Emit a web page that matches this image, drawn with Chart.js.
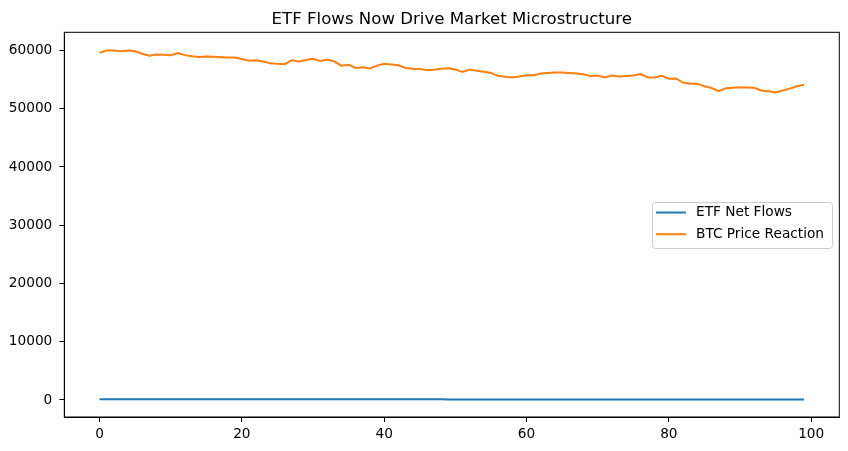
<!DOCTYPE html>
<html lang="en">
<head>
    <meta charset="UTF-8">
    <title>ETF Flows Now Drive Market Microstructure</title>
    <script src="https://cdn.jsdelivr.net/npm/chart.js@4.4.0/dist/chart.umd.min.js"></script>
    <style>
        body { margin: 0; background: #fff; }
        #wrap { width: 848px; height: 451px; position: relative; }
    </style>
</head>
<body>
    <div id="wrap"><canvas id="flowChart"></canvas></div>

    <script>
        // x positions (days)
        const days = Array.from({ length: 100 }, (_, i) => i);

        const etfFlows = [
            130, 129, 129, 128, 128, 127, 127, 126, 126, 125,
            125, 124, 124, 123, 123, 122, 122, 121, 121, 120,
            120, 119, 119, 118, 118, 117, 117, 116, 116, 115,
            115, 114, 114, 113, 113, 112, 112, 111, 111, 110,
            110, 109, 109, 108, 108, 107, 107, 106, 106, 105,
            105, 104, 104, 103, 103, 102, 102, 101, 101, 100,
            100, 99, 99, 98, 98, 97, 97, 96, 96, 95,
            95, 94, 94, 93, 93, 92, 92, 91, 91, 90,
            90, 89, 89, 88, 88, 87, 87, 86, 86, 85,
            85, 84, 84, 83, 83, 82, 82, 81, 81, 80
        ];

        const btcPrice = [
            59600, 60000, 60000, 59850, 60000, 59850, 59450, 59100, 59300, 59250,
            59200, 59550, 59200, 59000, 58900, 58950, 58920, 58850, 58800, 58780,
            58550, 58250, 58340, 58100, 57800, 57700, 57650, 58300, 58100, 58350,
            58570, 58200, 58450, 58100, 57400, 57550, 57000, 57100, 56900, 57400,
            57720, 57600, 57450, 57000, 56850, 56800, 56650, 56700, 56850, 56960,
            56750, 56300, 56740, 56500, 56350, 56150, 55650, 55500, 55360, 55550,
            55760, 55750, 56050, 56150, 56200, 56220, 56150, 56050, 55930, 55600,
            55710, 55350, 55700, 55550, 55600, 55700, 55950, 55420, 55360, 55660,
            55140, 55200, 54500, 54280, 54280, 53870, 53550, 53010, 53530, 53620,
            53700, 53650, 53600, 53130, 53010, 52800, 53130, 53450, 53850, 54100
        ];

        const chartTitle = 'ETF Flows Now Drive Market Microstructure';
        const xTicks = [0, 20, 40, 60, 80, 100];
        const yTicks = [0, 10000, 20000, 30000, 40000, 50000, 60000];

        const FONT = "'DejaVu Sans', sans-serif";

        // axes frame on all four sides, title centred over the plot area
        const framePlugin = {
            id: 'frame',
            afterDraw(chart) {
                const { ctx, chartArea: a } = chart;
                ctx.save();
                ctx.strokeStyle = '#000';
                ctx.lineWidth = 1;
                ctx.strokeRect(a.left, a.top, a.right - a.left, a.bottom - a.top);
                ctx.fillStyle = '#000';
                ctx.font = '16.6px ' + FONT;
                ctx.textAlign = 'center';
                ctx.textBaseline = 'alphabetic';
                ctx.fillText(chartTitle, (a.left + a.right) / 2, 24.3);
                ctx.restore();
            }
        };

        // matplotlib-like legend box placed at right middle of the plot
        const legendBox = {
            id: 'legendBox',
            afterDraw(chart) {
                const { ctx } = chart;
                const x = 652, y = 202, w = 180, h = 46;
                ctx.save();
                ctx.fillStyle = 'rgba(255,255,255,0.8)';
                ctx.strokeStyle = '#cccccc';
                ctx.lineWidth = 1;
                ctx.beginPath();
                ctx.roundRect(x + 0.5, y + 0.5, w, h, 3);
                ctx.fill();
                ctx.stroke();
                ctx.font = '13.7px ' + FONT;
                ctx.textBaseline = 'middle';
                chart.data.datasets.forEach((ds, i) => {
                    const ly = y + 10.5 + i * 21.7;
                    ctx.strokeStyle = ds.borderColor;
                    ctx.lineWidth = 2;
                    ctx.beginPath();
                    ctx.moveTo(x + 4, ly);
                    ctx.lineTo(x + 34, ly);
                    ctx.stroke();
                    ctx.fillStyle = '#000';
                    ctx.fillText(ds.label, x + 44, ly);
                });
                ctx.restore();
            }
        };

        const ctx = document.getElementById('flowChart').getContext('2d');
        new Chart(ctx, {
            type: 'line',
            data: {
                datasets: [
                    {
                        label: 'ETF Net Flows',
                        data: days.map((d, i) => ({ x: d, y: etfFlows[i] })),
                        borderColor: '#1f77b4',
                        borderWidth: 2,
                        pointRadius: 0,
                        tension: 0
                    },
                    {
                        label: 'BTC Price Reaction',
                        data: days.map((d, i) => ({ x: d, y: btcPrice[i] })),
                        borderColor: '#ff7f0e',
                        borderWidth: 2,
                        pointRadius: 0,
                        tension: 0
                    }
                ]
            },
            options: {
                responsive: true,
                maintainAspectRatio: false,
                animation: false,
                layout: { padding: { top: 32.3, right: 8.7, bottom: 0, left: 0 } },
                plugins: {
                    legend: { display: false },
                    tooltip: { enabled: false },
                    title: { display: false }
                },
                scales: {
                    x: {
                        type: 'linear',
                        min: -4.95,
                        max: 103.95,
                        afterBuildTicks: axis => { axis.ticks = xTicks.map(v => ({ value: v })); },
                        afterFit: axis => { axis.height = 34; },
                        grid: { drawOnChartArea: false, drawTicks: true, tickLength: 5, color: '#000' },
                        border: { display: true, color: '#000' },
                        ticks: {
                            color: '#000',
                            font: { family: FONT, size: 13.7 },
                            padding: 4,
                            maxRotation: 0,
                            callback: v => String(v)
                        }
                    },
                    y: {
                        min: -2920,
                        max: 63120,
                        afterBuildTicks: axis => { axis.ticks = yTicks.map(v => ({ value: v })); },
                        afterFit: axis => { axis.width = 64.3; },
                        grid: { drawOnChartArea: false, drawTicks: true, tickLength: 5, color: '#000' },
                        border: { display: true, color: '#000' },
                        ticks: {
                            color: '#000',
                            font: { family: FONT, size: 13.7 },
                            padding: 7,
                            callback: v => String(v)
                        }
                    }
                }
            },
            plugins: [framePlugin, legendBox]
        });
    </script>
</body>
</html>
